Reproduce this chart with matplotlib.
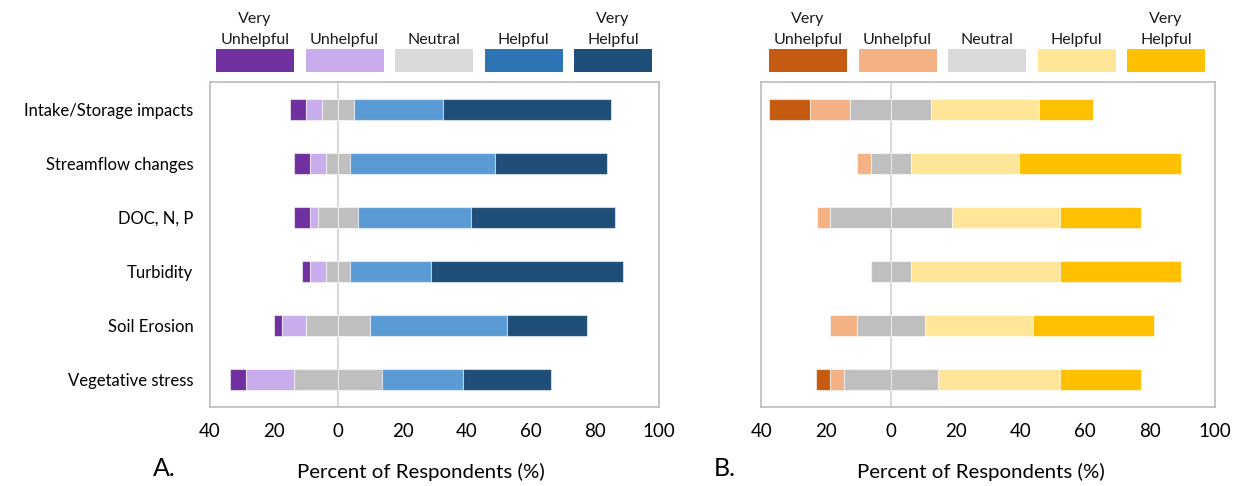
import matplotlib
matplotlib.use("Agg")
import matplotlib.pyplot as plt
from matplotlib.patches import Rectangle

plt.rcParams['font.family'] = ['Lato', 'DejaVu Sans']

categories = ["Intake/Storage impacts", "Streamflow changes", "DOC, N, P",
              "Turbidity", "Soil Erosion", "Vegetative stress"]
levels = ["Very\nUnhelpful", "Unhelpful", "Neutral", "Helpful", "Very\nHelpful"]

# Panel A responses (% of respondents)
a_very_unhelpful = [5.0, 5.0, 5.0, 2.5, 2.5, 5.0]
a_unhelpful = [5.0, 5.0, 2.5, 5.0, 7.5, 15.0]
a_neutral = [10.0, 7.5, 12.5, 7.5, 20.0, 27.5]
a_helpful = [27.5, 45.0, 35.0, 25.0, 42.5, 25.0]
a_very_helpful = [52.5, 35.0, 45.0, 60.0, 25.0, 27.5]

# Panel B responses (% of respondents)
b_very_unhelpful = [12.5, 0.0, 0.0, 0.0, 0.0, 4.2]
b_unhelpful = [12.5, 4.2, 4.2, 0.0, 8.3, 4.2]
b_neutral = [25.0, 12.5, 37.5, 12.5, 20.8, 29.2]
b_helpful = [33.3, 33.3, 33.3, 45.8, 33.3, 37.5]
b_very_helpful = [16.7, 50.0, 25.0, 37.5, 37.5, 25.0]

xticks = [-40, -20, 0, 20, 40, 60, 80, 100]

colors_a_bar = ["#7030A0", "#C9ACEB", "#BFBFBF", "#5B9BD5", "#1F4E79"]
colors_a_key = ["#7030A0", "#C9ACEB", "#D9D9D9", "#2E75B6", "#1F4E79"]
colors_b_bar = ["#C55A11", "#F4B183", "#BFBFBF", "#FFE699", "#FFC000"]
colors_b_key = ["#C55A11", "#F4B183", "#D9D9D9", "#FFE699", "#FFC000"]

W, H = 1238, 486
fig = plt.figure(figsize=(W / 100, H / 100), dpi=100)


def px_rect(x0, y0, x1, y1):
    """Figure-fraction rect from pixel bounds (top-left origin)."""
    return [x0 / W, 1 - y1 / H, (x1 - x0) / W, (y1 - y0) / H]


def draw_panel(ax, vu, u, n, h, vh, colors, show_labels):
    ypos = list(range(len(categories)))
    bh = 0.39
    edge = dict(edgecolor=(1, 1, 1, 0.55), linewidth=0.8)
    half = [v / 2 for v in n]
    u_left = [-hf - uu for hf, uu in zip(half, u)]
    vu_left = [ul - v for ul, v in zip(u_left, vu)]
    ax.axvline(0, color="#D9D9D9", linewidth=1.5, zorder=1)
    ax.barh(ypos, vu, left=vu_left, height=bh, color=colors[0], zorder=2, **edge)
    ax.barh(ypos, u, left=u_left, height=bh, color=colors[1], zorder=2, **edge)
    ax.barh(ypos, half, left=[-hf for hf in half], height=bh, color=colors[2], zorder=2, **edge)
    ax.barh(ypos, half, left=[0] * len(half), height=bh, color=colors[2], zorder=2, **edge)
    ax.barh(ypos, h, left=half, height=bh, color=colors[3], zorder=2, **edge)
    ax.barh(ypos, vh, left=[hf + hh for hf, hh in zip(half, h)], height=bh,
            color=colors[4], zorder=2, **edge)
    ax.set_xlim(-40, 100)
    ax.set_ylim(len(categories) - 0.5, -0.5)
    ax.set_xticks(xticks)
    ax.set_xticklabels([str(abs(t)) for t in xticks], fontsize=13.5, color="#000000")
    ax.tick_params(axis="x", length=0, pad=11.5)
    ax.set_yticks(ypos)
    if show_labels:
        ax.set_yticklabels(categories, fontsize=12)
        ax.tick_params(axis="y", length=0, pad=12)
    else:
        ax.set_yticklabels([])
        ax.tick_params(axis="y", length=0)
    for s in ax.spines.values():
        s.set_color("#BFBFBF")
        s.set_linewidth(1.3)


def draw_key(x_start, colors):
    step = 89.5
    width = 78
    for i, (lab, col) in enumerate(zip(levels, colors)):
        x0 = x_start + i * step
        fig.patches.append(Rectangle((x0 / W, 1 - 72 / H), width / W, 23 / H,
                                     transform=fig.transFigure, facecolor=col,
                                     edgecolor="none"))
        cx = (x0 + width / 2) / W
        lines = lab.split("\n")
        fig.text(cx, 1 - 44 / H, lines[-1], ha="center", va="baseline",
                 fontsize=11.5, color="#1a1a1a")
        if len(lines) > 1:
            fig.text(cx, 1 - 23 / H, lines[0], ha="center", va="baseline",
                     fontsize=11.5, color="#1a1a1a")


ax_a = fig.add_axes(px_rect(210, 82, 659.3, 406.7))
ax_b = fig.add_axes(px_rect(761.3, 82, 1215, 406.7))

draw_panel(ax_a, a_very_unhelpful, a_unhelpful, a_neutral, a_helpful,
           a_very_helpful, colors_a_bar, True)
draw_panel(ax_b, b_very_unhelpful, b_unhelpful, b_neutral, b_helpful,
           b_very_helpful, colors_b_bar, False)

draw_key(216, colors_a_key)
draw_key(769, colors_b_key)

fig.text(421 / W, 1 - 478 / H, "Percent of Respondents (%)", ha="center",
         va="baseline", fontsize=14.7)
fig.text(981 / W, 1 - 478 / H, "Percent of Respondents (%)", ha="center",
         va="baseline", fontsize=14.7)
fig.text(153 / W, 1 - 476 / H, "A.", ha="left", va="baseline", fontsize=18)
fig.text(714 / W, 1 - 476 / H, "B.", ha="left", va="baseline", fontsize=18)

fig.savefig("out.png", dpi=100, facecolor="white")
